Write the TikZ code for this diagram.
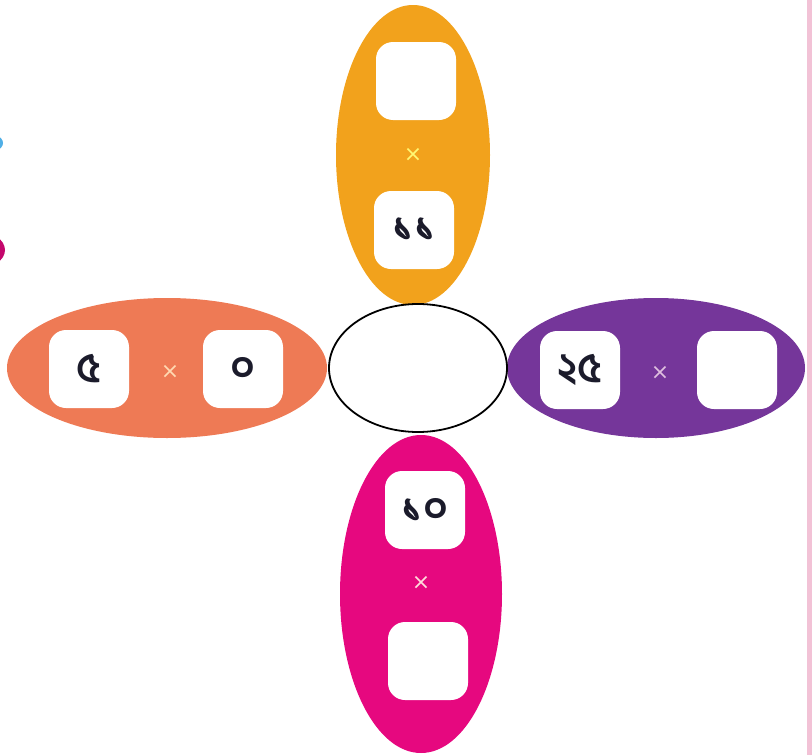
\documentclass[tikz,border=0pt]{standalone}
\usepackage{fontspec}
\newfontfamily\bnfont[Script=Bengali]{Hind Siliguri}
\newfontfamily\signfont{DejaVu Sans}
\usetikzlibrary{shapes.geometric}
\definecolor{petalT}{HTML}{F2A21C}
\definecolor{petalL}{HTML}{EE7A55}
\definecolor{petalR}{HTML}{75369A}
\definecolor{petalB}{HTML}{E6087F}
\definecolor{numtext}{HTML}{1B1B2B}
\definecolor{edgepink}{HTML}{F2C2D6}
\tikzset{
  petal/.style={ellipse,inner sep=0pt},
  numbox/.style={rounded corners=17pt,fill=white,minimum width=80pt,minimum height=78pt,inner sep=0pt,text=numtext,font=\bnfont\bfseries\fontsize{42}{42}\selectfont},
  times/.style={inner sep=0pt,font=\signfont\fontsize{22}{22}\selectfont}
}
\begin{document}
\begin{tikzpicture}[x=1pt,y=-1pt]
\useasboundingbox (0,0) rectangle (812,755);
% scraps cut off at the page edges
\fill[edgepink] (807,0) rectangle (812,755);
\begin{scope}
\clip (0,0) rectangle (812,755);
\fill[cyan!80!blue!70] (-18,143) ellipse (21 and 11);
\fill[petalB!85!black] (-24,250) ellipse (29 and 19);
\end{scope}
% petals
\node[petal,fill=petalT,minimum width=154,minimum height=300] (pT) at (413,155) {};
\node[petal,fill=petalL,minimum width=320,minimum height=140] (pL) at (167,368) {};
\node[petal,fill=petalR,minimum width=298,minimum height=140] (pR) at (656,368) {};
\node[petal,fill=petalB,minimum width=162,minimum height=318] (pB) at (421,594) {};
\node[petal,draw=black,line width=1.8pt,fill=white,minimum width=178,minimum height=128] (mid) at (418,368) {};
% boxes
\node[numbox] (bT1) at (416,81) {};
\node[numbox] (bT2) at (414,230) {১১};
\node[numbox] (bL1) at (89,369) {৫};
\node[numbox] (bL2) at (243,369) {০};
\node[numbox] (bR1) at (580,370) {২৫};
\node[numbox] (bR2) at (737,370) {};
\node[numbox] (bB1) at (425,510) {১০};
\node[numbox] (bB2) at (428,661) {};
% times signs
\foreach \N/\X/\Y/\C in {tT/413/155/yellow!55, tL/170/372/orange!30, tR/660/373/violet!25, tB/421/583/pink!55}{
  \node[times,text=\C] (\N) at (\X,\Y) {×};
}
\end{tikzpicture}
\end{document}
